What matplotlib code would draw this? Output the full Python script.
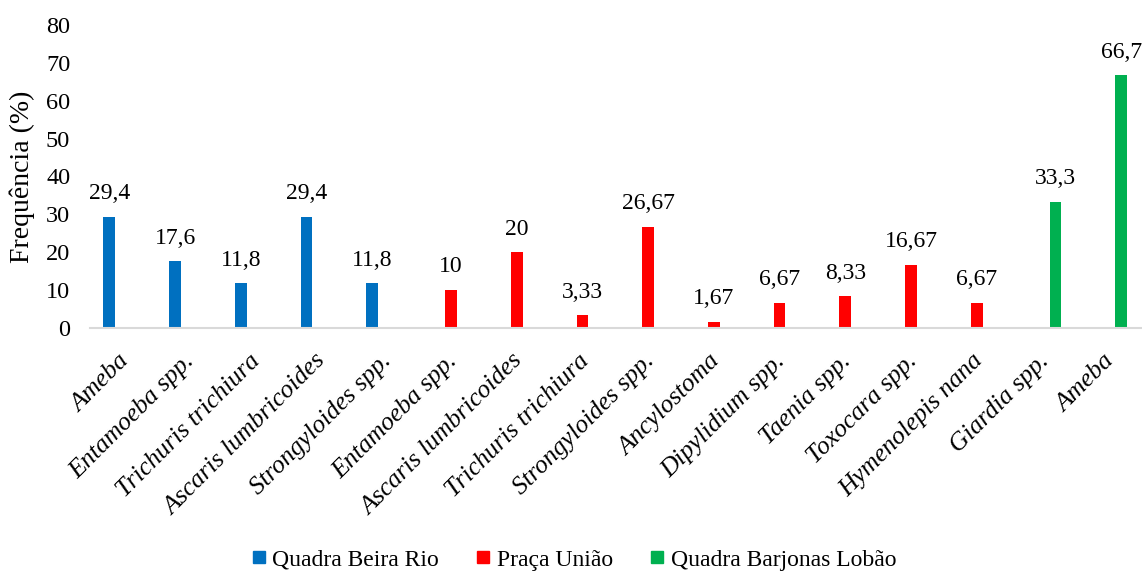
import matplotlib
matplotlib.use("Agg")
import matplotlib.pyplot as plt
import matplotlib.transforms as mtransforms
from matplotlib.lines import Line2D

# parasites found at each square (one series per location)
categories = ["Ameba", "Entamoeba spp.", "Trichuris trichiura", "Ascaris lumbricoides",
              "Strongyloides spp.",
              "Entamoeba spp.", "Ascaris lumbricoides", "Trichuris trichiura",
              "Strongyloides spp.", "Ancylostoma", "Dipylidium spp.", "Taenia spp.",
              "Toxocara spp.", "Hymenolepis nana",
              "Giardia spp.", "Ameba"]
values = [29.4, 17.6, 11.8, 29.4, 11.8,
          10, 20, 3.33, 26.67, 1.67, 6.67, 8.33, 16.67, 6.67,
          33.3, 66.7]
value_labels = ["29,4", "17,6", "11,8", "29,4", "11,8",
                "10", "20", "3,33", "26,67", "1,67", "6,67", "8,33", "16,67", "6,67",
                "33,3", "66,7"]
groups = [0] * 5 + [1] * 9 + [2] * 2
series_names = ["Quadra Beira Rio", "Praça União", "Quadra Barjonas Lobão"]
series_colors = ["#0070C0", "#FF0000", "#00B050"]
y_ticks = [0, 10, 20, 30, 40, 50, 60, 70, 80]

plt.rcParams["font.family"] = ["Liberation Serif", "DejaVu Serif"]

fig = plt.figure(figsize=(11.42, 5.73), dpi=100)
ax = fig.add_axes([0.0785, 0.4276, 0.9206, 0.5288])

# clustered layout like Excel: each series sits at its own offset in the slot
offset = 0.2
width = 0.18
xs = [i + (g - 1) * offset for i, g in enumerate(groups)]
ax.bar(xs, values, width=width, color=[series_colors[g] for g in groups], zorder=2)

lift = mtransforms.offset_copy(ax.transData, fig=fig, x=0, y=12.7, units="points")
for x, v, lab in zip(xs, values, value_labels):
    ax.text(x, v, lab, ha="center", va="baseline", fontsize=17, transform=lift)

ax.set_xlim(-0.5, len(categories) - 0.5)
ax.set_ylim(0, 80)
ax.set_yticks(y_ticks)
ax.set_xticks(range(len(categories)))
ax.set_xticklabels(categories, rotation=45, ha="right", va="baseline",
                   rotation_mode="anchor", fontstyle="italic", fontsize=18.5)
ax.tick_params(axis="x", length=0, pad=24.5)
ax.tick_params(axis="y", length=0, pad=14, labelsize=17.5)

shift = mtransforms.ScaledTranslation(7 / 100, 0, fig.dpi_scale_trans)
for lab in ax.get_xticklabels():
    lab.set_transform(lab.get_transform() + shift)

for s in ["top", "right", "left"]:
    ax.spines[s].set_visible(False)
ax.spines["bottom"].set_color("#D9D9D9")
ax.spines["bottom"].set_linewidth(1.5)

fig.text(22.5 / 1142, 0.6920, "Frequência (%)", rotation=90, ha="center", va="center",
         fontsize=20)

handles = [Line2D([], [], linestyle="none", marker="s", markersize=9,
                  markerfacecolor=c, markeredgecolor=c) for c in series_colors]
fig.legend(handles, series_names, loc="center", bbox_to_anchor=(0.503, 0.0227),
           ncol=3, frameon=False, fontsize=17, handlelength=0.55, handletextpad=0.3,
           columnspacing=1.6, borderpad=0)

fig.savefig("out.png", dpi=100)
